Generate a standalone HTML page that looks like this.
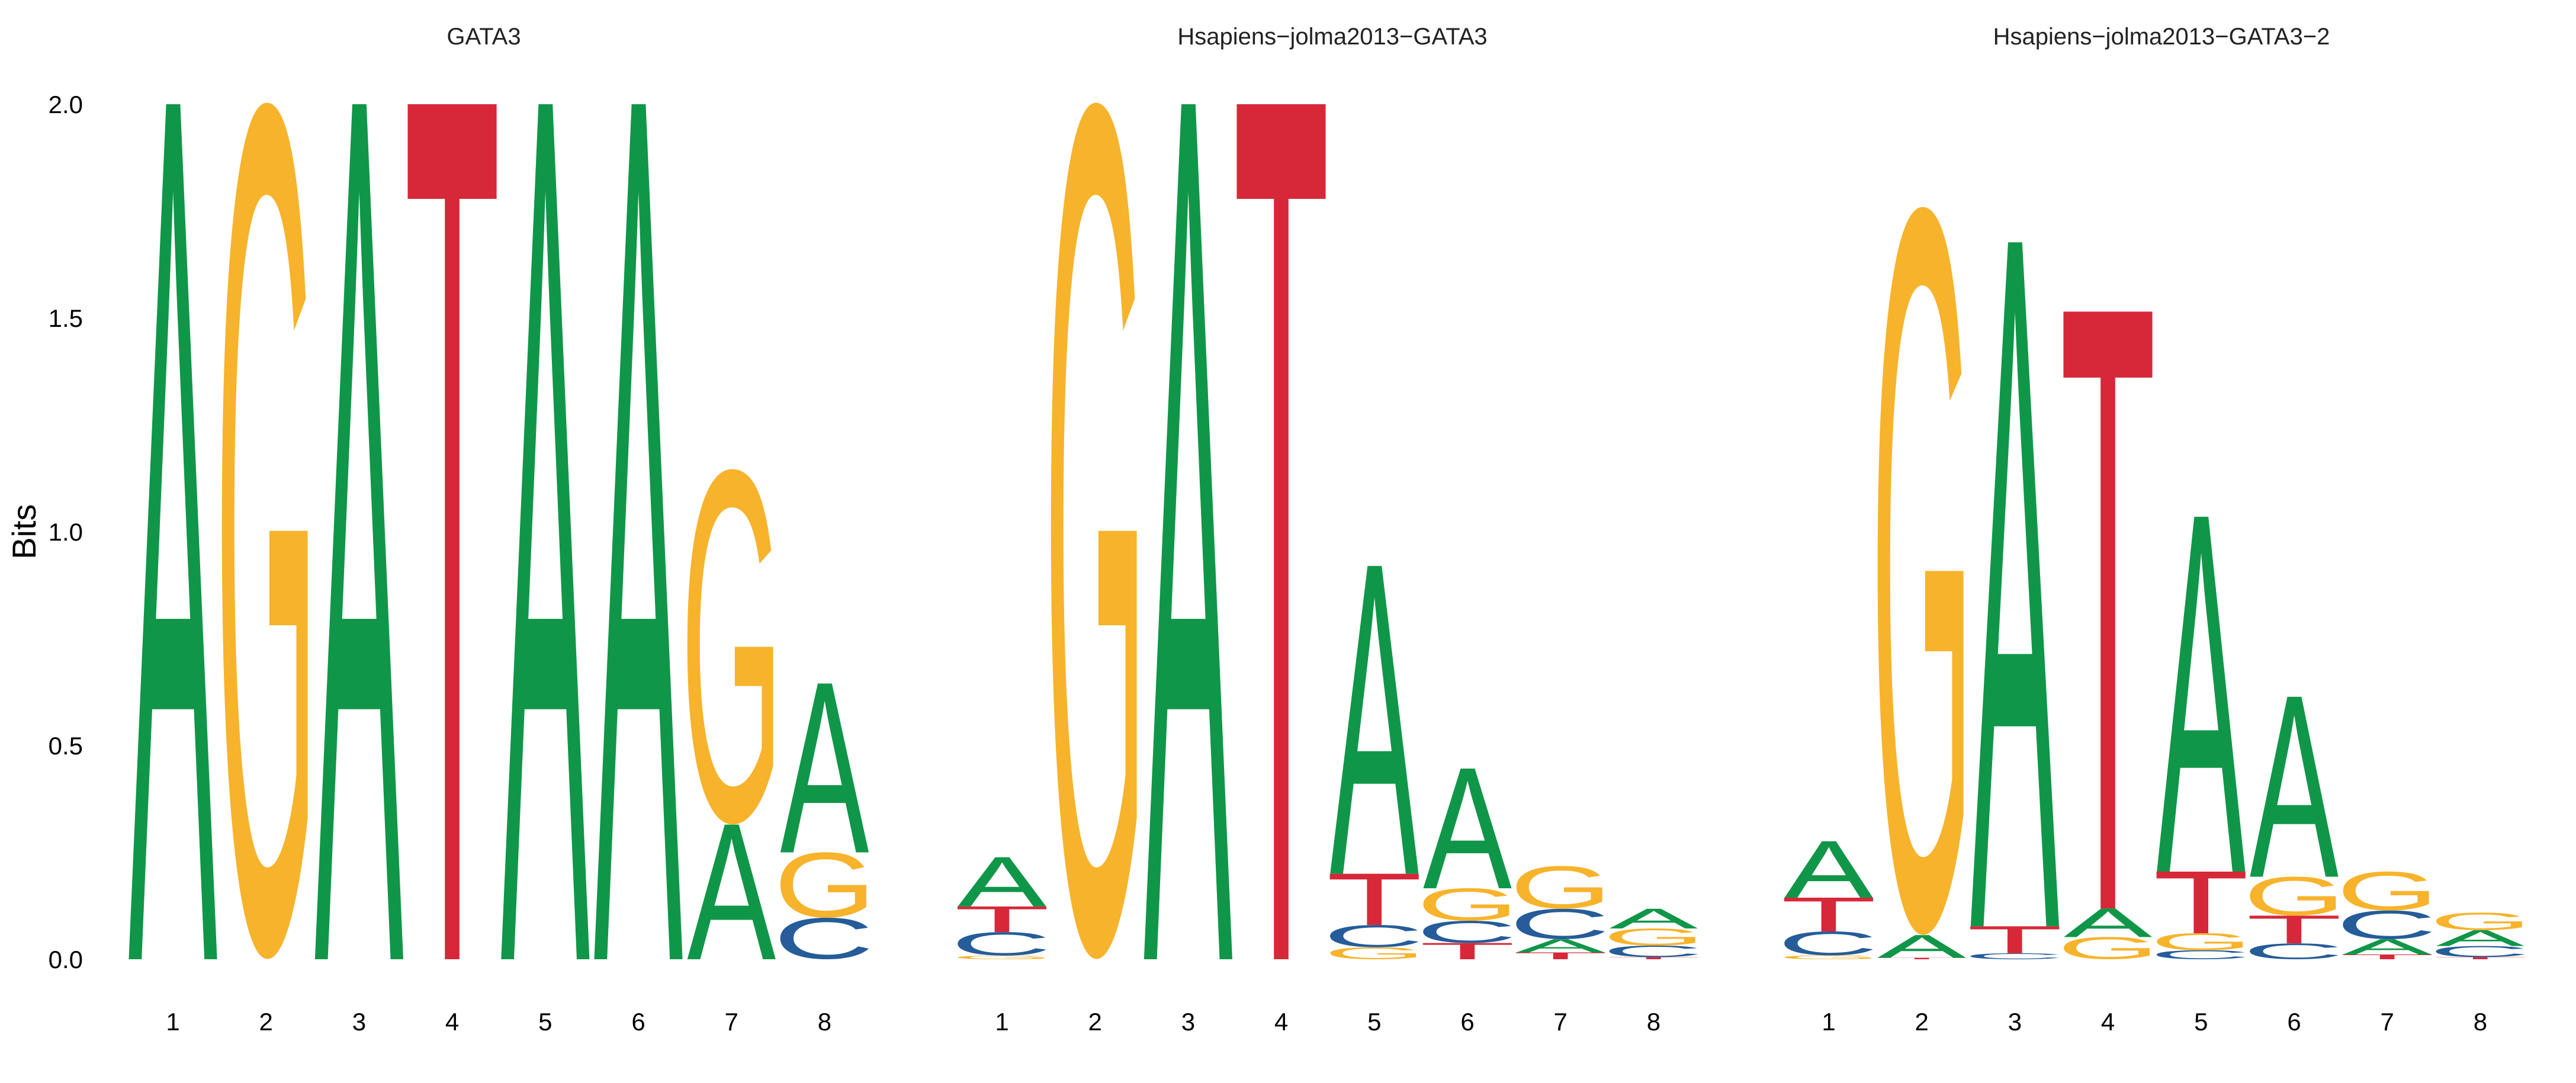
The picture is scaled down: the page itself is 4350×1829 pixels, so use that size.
<!DOCTYPE html>
<html><head><meta charset="utf-8">
<style>
html,body{margin:0;padding:0;background:#fff;overflow:hidden;width:4350px;height:1829px;}
svg{display:block;}
text{font-family:"Liberation Sans",Arial,sans-serif;}
</style></head>
<body>
<svg id="chart" width="4350" height="1829" viewBox="0 0 4350 1829" xmlns="http://www.w3.org/2000/svg">
<rect width="4350" height="1829" fill="#fff"/>
<text x="0" y="0" font-size="56" text-anchor="middle" transform="translate(60,898) rotate(-90)">Bits</text>
<g id="yticks"></g>
<g id="panels"></g>
</svg>
<script>
const titles = ["GATA3", "Hsapiens\u2212jolma2013\u2212GATA3", "Hsapiens\u2212jolma2013\u2212GATA3\u22122"];
const positions = [1,2,3,4,5,6,7,8];
const yTicks = [0, 0.5, 1.0, 1.5, 2.0];
const yTickLabels = ["0.0","0.5","1.0","1.5","2.0"];
const p1A = [2,0,2,0,2,2,0.315,0.395];
const p1C = [0,0,0,0,0,0,0,0.097];
const p1G = [0,2,0,0,0,0,0.83,0.153];
const p1T = [0,0,0,2,0,0,0,0];
const p2A = [0.115,0,2,0,0.72,0.28,0.031,0.046];
const p2C = [0.055,0,0,0,0.052,0.052,0.071,0.027];
const p2G = [0.0085,2,0,0,0.028,0.076,0.1,0.04];
const p2T = [0.06,0,0,2,0.12,0.038,0.016,0.005];
const p3A = [0.132,0.053,1.60,0.067,0.83,0.421,0.036,0.037];
const p3C = [0.056,0,0.014,0,0.021,0.037,0.067,0.026];
const p3G = [0.009,1.70,0,0.052,0.04,0.091,0.091,0.041];
const p3T = [0.079,0.0035,0.063,1.396,0.144,0.065,0.011,0.005];

const NS = "http://www.w3.org/2000/svg";
const Y0 = 1620, Y2 = 176;
function yScale(v){ return Y0 - (Y0 - Y2) * v / 2; }
const panelX0 = [292, 1692, 3088];
const STEP = 157.2, LW = 150;
function xScale(p, i){ return panelX0[p] + (i) * STEP; }
const titleX = [817, 2250, 3650];
const colors = {A:"#109648", C:"#255C99", G:"#F7B32B", T:"#D62839"};
const ink = {A:[0,66.7], C:[5,63.5], G:[4.8,67.6], T:[2.3,56.5]};
const capH = {A:68.8, T:68.8, C:69.7, G:69.7};
const below = {A:0, T:0, C:1.0, G:1.0};

const yt = document.getElementById('yticks');
yTicks.forEach((v,k)=>{
  const t = document.createElementNS(NS,'text');
  
  
  t.setAttribute('x',140); t.setAttribute('y',yScale(v)+15);
  t.setAttribute('font-size','42'); t.setAttribute('text-anchor','end');
  t.textContent = yTickLabels[k];
  yt.appendChild(t);
});

const data = [[p1A,p1C,p1G,p1T],[p2A,p2C,p2G,p2T],[p3A,p3C,p3G,p3T]];
const letters = ["A","C","G","T"];
const pg = document.getElementById('panels');
data.forEach((arrs,p)=>{
  const g = document.createElementNS(NS,'g');
  
  
  pg.appendChild(g);
  const tt = document.createElementNS(NS,'text');
  
  
  tt.setAttribute('x',titleX[p]); tt.setAttribute('y',75);
  tt.setAttribute('font-size','40'); tt.setAttribute('text-anchor','middle');
  tt.setAttribute('fill','#222');
  tt.textContent = titles[p];
  g.appendChild(tt);
  positions.forEach((pos,i)=>{
    const cx = xScale(p,i);
    const xl = document.createElementNS(NS,'text');
    
    
    xl.setAttribute('x',cx); xl.setAttribute('y',1740);
    xl.setAttribute('font-size','42'); xl.setAttribute('text-anchor','middle');
    xl.textContent = String(pos);
    g.appendChild(xl);
    const col = letters.map((L,j)=>({L, h:arrs[j][i]})).filter(o=>o.h>0).sort((a,b)=>a.h-b.h);
    let acc = 0;
    col.forEach(o=>{
      const yb = yScale(acc), yt2 = yScale(acc+o.h);
      acc += o.h;
      const hpx = yb - yt2;
      const [lsb, w] = ink[o.L];
      const sx = LW / w, sy = hpx / (capH[o.L] + below[o.L]);
      const t = document.createElementNS(NS,'text');
      
      
      t.setAttribute('x',0); t.setAttribute('y',0);
      t.setAttribute('font-size','100');
      t.setAttribute('fill',colors[o.L]);
      t.setAttribute('transform',`translate(${cx - LW/2 - lsb*sx},${yb - below[o.L]*sy}) scale(${sx},${sy})`);
      t.textContent = o.L;
      g.appendChild(t);
    });
  });
});
</script>
</body></html>
